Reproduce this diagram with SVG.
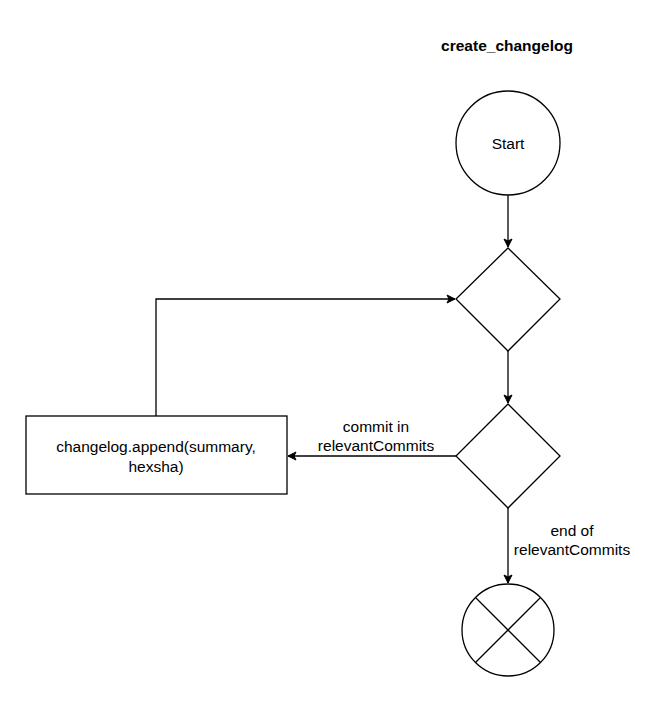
<svg xmlns="http://www.w3.org/2000/svg" width="658" height="704" viewBox="0 0 658 704">
<style>
.s{fill:#fff;stroke:#000;stroke-width:1.3}
.e{fill:none;stroke:#000;stroke-width:1.3}
text{font-family:"Liberation Sans",Arial,sans-serif;font-size:15.5px;fill:#000;text-anchor:middle}
.t{font-weight:bold}
</style>
<defs>
<marker id="a" markerWidth="10" markerHeight="10" refX="9" refY="5" orient="auto" markerUnits="userSpaceOnUse">
<path d="M1,1 L9,5 L1,9 L3,5 Z" fill="#000" stroke="#000" stroke-width="1"/>
</marker>
</defs>
<rect width="658" height="704" fill="#fff"/>
<g id="title"><text class="t" x="507" y="51">create_changelog</text></g>
<g id="connectors">
<path class="e" d="M508,195 V247" marker-end="url(#a)"/>
<path class="e" d="M508,351 V403" marker-end="url(#a)"/>
<path class="e" d="M456,456 H288" marker-end="url(#a)"/>
<path class="e" d="M156,416 V299 H455" marker-end="url(#a)"/>
<path class="e" d="M508,508 V583" marker-end="url(#a)"/>
<text x="376" y="432">commit in</text>
<text x="376" y="451">relevantCommits</text>
<text x="572" y="536">end of</text>
<text x="572" y="555">relevantCommits</text>
</g>
<g id="start"><circle class="s" cx="508" cy="143" r="52"/><text x="508" y="149">Start</text></g>
<g id="loop"><path class="s" d="M508,248 L560,299 L508,351 L456,299 Z"/></g>
<g id="decision"><path class="s" d="M508,404 L560,456 L508,508 L456,456 Z"/></g>
<g id="append"><rect class="s" x="26" y="416" width="261" height="78"/><text x="156" y="452">changelog.append(summary,</text><text x="156" y="472">hexsha)</text></g>
<g id="end"><circle class="s" cx="508" cy="630" r="46"/><path class="e" d="M475.5,597.5 L540.5,662.5 M540.5,597.5 L475.5,662.5"/></g>
</svg>
